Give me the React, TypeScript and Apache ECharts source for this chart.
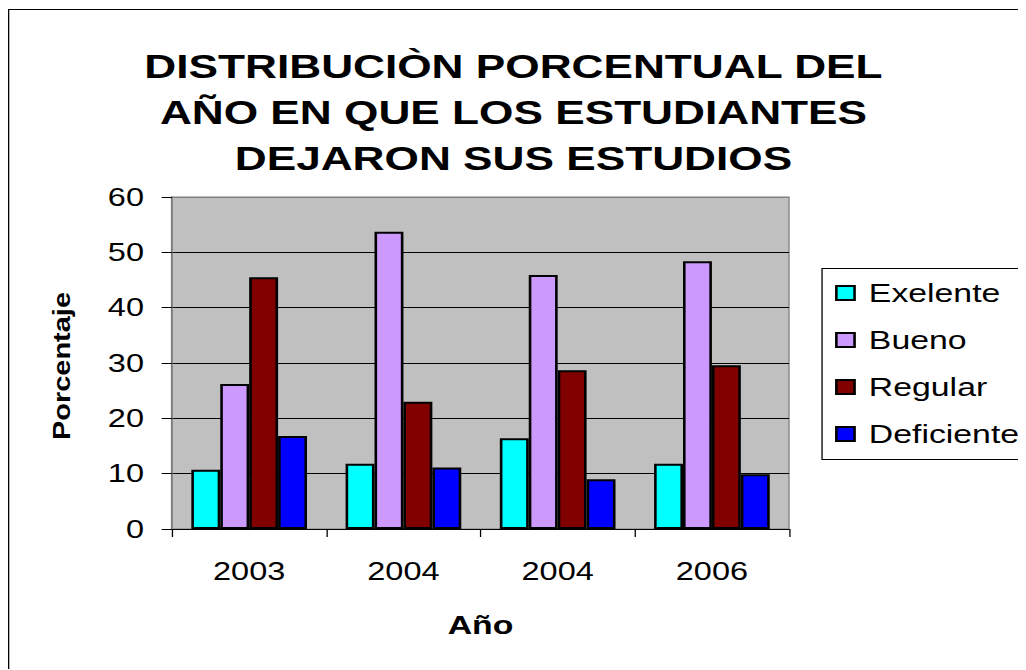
import React, { useEffect, useRef } from "react";
import * as echarts from "echarts";

const categories = ["2003", "2004", "2004", "2006"];
const seriesNames = ["Exelente", "Bueno", "Regular", "Deficiente"];
const exelente = [10.7, 11.8, 16.4, 11.8];
const bueno = [26.2, 53.7, 45.9, 48.4];
const regular = [45.5, 23.0, 28.7, 29.6];
const deficiente = [16.8, 11.1, 9.0, 9.9];
const seriesColors = ["#00FFFF", "#CC99FF", "#800000", "#0000FF"];
const titleText = "DISTRIBUCIÒN PORCENTUAL DEL\nAÑO EN QUE LOS ESTUDIANTES\nDEJARON SUS ESTUDIOS";
const yName = "Porcentaje";
const xName = "Año";

const FONT = "'Liberation Sans', Arial, sans-serif";
const SX = 1.3;

export default function App() {
  const ref = useRef<HTMLDivElement>(null);
  useEffect(() => {
    if (!ref.current) return;
    const chart = echarts.init(ref.current, undefined, { renderer: "svg" });
    const values = [exelente, bueno, regular, deficiente];
    chart.setOption({
      animation: false,
      backgroundColor: "#ffffff",
      textStyle: { fontFamily: FONT, color: "#000" },
      grid: {
        left: 126.2,
        top: 189,
        width: 474.6,
        height: 332,
        show: true,
        backgroundColor: "#C0C0C0",
        borderColor: "#808080",
        borderWidth: 1,
        containLabel: false,
      },
      legend: {
        orient: "vertical",
        left: 636.2,
        top: 272,
        padding: 0,
        itemWidth: 14,
        itemHeight: 14,
        itemGap: 21,
        icon: "rect",
        textStyle: { fontSize: 26, lineHeight: 26, color: "#000", fontFamily: FONT, padding: [0, 0, 0, 6] },
        data: seriesNames,
      },
      xAxis: {
        type: "category",
        data: categories,
        name: xName,
        nameLocation: "middle",
        nameGap: 83,
        nameTextStyle: { fontSize: 26, fontWeight: "bold", color: "#000", fontFamily: FONT },
        axisLine: { show: true, lineStyle: { color: "#000", width: 1 } },
        axisTick: { show: true, length: 8, lineStyle: { color: "#000" }, alignWithLabel: false },
        axisLabel: { fontSize: 25, color: "#000", margin: 30, interval: 0, fontFamily: FONT },
        splitLine: { show: false },
      },
      yAxis: {
        type: "value",
        min: 0,
        max: 60,
        interval: 10,
        axisLine: { show: true, lineStyle: { color: "#808080", width: 1.5 } },
        axisTick: { show: true, length: 8, lineStyle: { color: "#000" } },
        axisLabel: { fontSize: 25, color: "#000", margin: 21.6, fontFamily: FONT },
        splitLine: {
          show: true,
          lineStyle: {
            color: ["#000", "#000", "#000", "#000", "#000", "#000", "#808080"],
            width: 1,
          },
        },
      },
      series: seriesNames.map((n, i) => ({
        name: n,
        type: "bar",
        data: values[i],
        barGap: "0%",
        barCategoryGap: "25%",
        itemStyle: { color: seriesColors[i], borderColor: "#000", borderWidth: 2 },
      })),
      graphic: [
        {
          type: "polyline",
          silent: true,
          shape: { points: [[2000, 1.5], [0.5, 1.5], [0.5, 2000]] },
          style: { fill: "none", stroke: "#000", lineWidth: 1 },
          z: 100,
        },
        {
          type: "polyline",
          silent: true,
          shape: { points: [[2000, 260.5], [626.2, 260.5], [626.2, 451.5], [2000, 451.5]] },
          style: { fill: "none", stroke: "#000", lineWidth: 1 },
          z: 100,
        },
        {
          type: "text",
          x: 388.8,
          y: 34.3,
          style: {
            text: titleText,
            font: `bold 34px ${FONT}`,
            fill: "#000",
            align: "center",
            verticalAlign: "top",
            lineHeight: 46.4,
          },
        },
        {
          type: "text",
          x: 41.9,
          y: 358,
          rotation: Math.PI / 2,
          scaleX: 1.206,
          scaleY: 0.751,
          style: {
            text: yName,
            font: `bold 24px ${FONT}`,
            fill: "#000",
            align: "center",
            verticalAlign: "middle",
          },
        },
      ],
    });
    return () => chart.dispose();
  }, []);
  return (
    <div
      ref={ref}
      style={{
        width: 783,
        height: 661,
        transform: `scaleX(${SX})`,
        transformOrigin: "0 0",
      }}
    />
  );
}
